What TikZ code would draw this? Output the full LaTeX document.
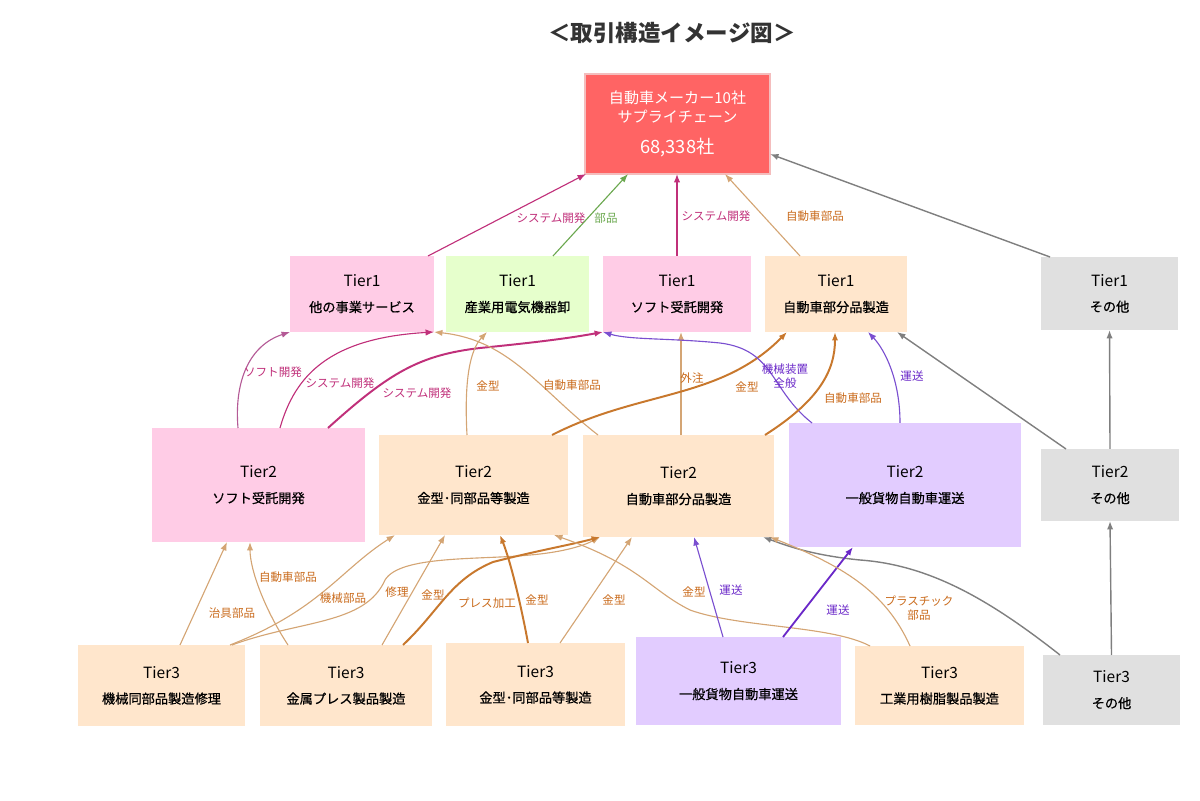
\documentclass[tikz,border=0pt]{standalone}
\usepackage{fontspec}
\setmainfont{Noto Sans CJK JP}
\newfontfamily\descfont[FakeBold=0.6]{Noto Sans CJK JP}
\usetikzlibrary{arrows.meta}

\definecolor{boxpink}{HTML}{FFCCE6}
\definecolor{boxpeach}{HTML}{FFE6CC}
\definecolor{boxgreen}{HTML}{E6FFCC}
\definecolor{boxlav}{HTML}{E2CCFF}
\definecolor{boxgray}{HTML}{E0E0E0}
\definecolor{topred}{HTML}{FF6464}
\definecolor{topedge}{HTML}{F4BDBD}
\definecolor{titlegray}{HTML}{333333}
\definecolor{magline}{HTML}{C0307A}
\definecolor{softmag}{HTML}{B45A96}
\definecolor{tanline}{HTML}{D4A574}
\definecolor{orline}{HTML}{C8782D}
\definecolor{orlabel}{HTML}{C96A1B}
\definecolor{grline}{HTML}{6BA84F}
\definecolor{puline}{HTML}{7A4FD0}
\definecolor{pudark}{HTML}{6A28C8}
\definecolor{gyline}{HTML}{7F7F7F}

\tikzset{
  tierbox/.style={inner sep=0pt, outer sep=0pt, align=center,
    font=\fontsize{11}{13}\selectfont},
  pinkbox/.style={tierbox, fill=boxpink},
  peachbox/.style={tierbox, fill=boxpeach},
  greenbox/.style={tierbox, fill=boxgreen},
  lavbox/.style={tierbox, fill=boxlav},
  graybox/.style={tierbox, fill=boxgray},
  topbox/.style={inner sep=0pt, outer sep=0pt, align=center, fill=topred,
    draw=topedge, line width=1.5pt, text=white,
    font=\fontsize{10.7}{13.5}\selectfont},
  lbl/.style={font=\fontsize{8.2}{9.5}\selectfont, inner sep=1pt, align=center},
  maglbl/.style={lbl, text=magline},
  orlbl/.style={lbl, text=orlabel},
  grlbl/.style={lbl, text=grline},
  pulbl/.style={lbl, text=pudark},
  sysedge/.style={->, draw=magline, line width=0.8pt},
  softedge/.style={->, draw=softmag, line width=0.8pt},
  tanedge/.style={->, draw=tanline, line width=0.8pt},
  oredge/.style={->, draw=orline, line width=1.4pt},
  gredge/.style={->, draw=grline, line width=0.8pt},
  puedge/.style={->, draw=puline, line width=0.8pt},
  grayedge/.style={->, draw=gyline, line width=1pt}
}

\newcommand{\tiertext}[2]{#1\\[5pt]{\fontsize{9.4}{11}\descfont #2}}

\begin{document}
\begin{tikzpicture}[x=0.025cm, y=-0.025cm, >={Latex[length=6pt,width=4.5pt]}]

\useasboundingbox (0,0) rectangle (1200,800);

% Title
\node[font=\fontsize{16}{18}\selectfont\bfseries, text=titlegray] (title) at (672,33) {＜取引構造イメージ図＞};

% Makers
\node[topbox, minimum width=4.625cm, minimum height=2.5cm] (top) at (677.5,124)
  {自動車メーカー10社\\サプライチェーン\\[9pt]{\fontsize{13}{15}\selectfont 68,338社}};

% Tier1
\node[pinkbox, minimum width=3.6cm, minimum height=1.9cm] (t1a) at (362,294) {\tiertext{Tier1}{他の事業サービス}};
\node[greenbox, minimum width=3.575cm, minimum height=1.9cm] (t1b) at (517.5,294) {\tiertext{Tier1}{産業用電気機器卸}};
\node[pinkbox, minimum width=3.7cm, minimum height=1.9cm] (t1c) at (677,294) {\tiertext{Tier1}{ソフト受託開発}};
\node[peachbox, minimum width=3.55cm, minimum height=1.9cm] (t1d) at (836,294) {\tiertext{Tier1}{自動車部分品製造}};
\node[graybox, minimum width=3.425cm, minimum height=1.825cm] (t1e) at (1109.5,293.5) {\tiertext{Tier1}{その他}};

% Tier2
\node[pinkbox, minimum width=5.325cm, minimum height=2.85cm] (t2a) at (258.5,485) {\tiertext{Tier2}{ソフト受託開発}};
\node[peachbox, minimum width=4.725cm, minimum height=2.5cm] (t2b) at (473.5,485) {\tiertext{Tier2}{金型･同部品等製造}};
\node[peachbox, minimum width=4.775cm, minimum height=2.55cm] (t2c) at (678.5,486) {\tiertext{Tier2}{自動車部分品製造}};
\node[lavbox, minimum width=5.8cm, minimum height=3.1cm] (t2d) at (905,485) {\tiertext{Tier2}{一般貨物自動車運送}};
\node[graybox, minimum width=3.45cm, minimum height=1.8cm] (t2e) at (1110,485) {\tiertext{Tier2}{その他}};

% Tier3
\node[peachbox, minimum width=4.175cm, minimum height=2.025cm] (t3a) at (161.5,685.5) {\tiertext{Tier3}{機械同部品製造修理}};
\node[peachbox, minimum width=4.3cm, minimum height=2.025cm] (t3b) at (346,685.5) {\tiertext{Tier3}{金属プレス製品製造}};
\node[peachbox, minimum width=4.475cm, minimum height=2.075cm] (t3c) at (535.5,684.5) {\tiertext{Tier3}{金型･同部品等製造}};
\node[lavbox, minimum width=5.125cm, minimum height=2.2cm] (t3d) at (738.5,681) {\tiertext{Tier3}{一般貨物自動車運送}};
\node[peachbox, minimum width=4.225cm, minimum height=1.975cm] (t3e) at (939.5,685.5) {\tiertext{Tier3}{工業用樹脂製品製造}};
\node[graybox, minimum width=3.425cm, minimum height=1.75cm] (t3f) at (1111.5,690) {\tiertext{Tier3}{その他}};

% Tier1 -> makers
\draw[sysedge] (t1a.north -| 428,0) -- (top.south -| 586,0)
  node[maglbl] at (551,218) {システム開発};
\draw[gredge] (t1b.north -| 553,0) -- (top.south -| 628,0)
  node[grlbl] at (606,218) {部品};
\draw[sysedge] (t1c.north) -- (t1c.north |- top.south)
  node[maglbl] at (716,216) {システム開発};
\draw[tanedge] (t1d.north -| 800,0) -- (top.south -| 725,0)
  node[orlbl] at (815,216) {自動車部品};
\draw[grayedge] (t1e.north -| 1050,0) -- (top.east |- 0,154);

% Tier2 -> Tier1
\draw[softedge] (t2a.north -| 238,0) .. controls (234,380) and (250,345) .. (t1a.south west)
  node[maglbl] at (273,372) {ソフト開発};
\draw[sysedge] (t2a.north -| 280,0) .. controls (295,375) and (330,338) .. (t1a.south east)
  node[maglbl] at (340,383) {システム開発};
\draw[sysedge, line width=1.4pt] (t2a.north -| 328,0) .. controls (390,372) and (420,355) .. (480,348)
  .. controls (540,342) and (570,338) .. (t1c.south west)
  node[maglbl] at (417,393) {システム開発};
\draw[tanedge] (t2b.north -| 467,0) .. controls (464,380) and (470,350) .. (t1b.south -| 487,0)
  node[orlbl] at (488,386) {金型};
\draw[tanedge] (t2c.north -| 598,0) .. controls (540,390) and (510,340) .. (t1a.south east)
  node[orlbl] at (572,385) {自動車部品};
\draw[tanedge] (t2c.north -| 681,0) -- (t1c.south -| 681,0)
  node[orlbl] at (692,378) {外注};
\draw[oredge] (t2b.north -| 552,0) .. controls (640,390) and (720,400) .. (t1d.south -| 787,0)
  node[orlbl] at (747,387) {金型};
\draw[puedge] (t2d.north -| 812,0) .. controls (770,390) and (775,350) .. (720,343)
  .. controls (670,338) and (630,340) .. (t1c.south west)
  node[pulbl] at (785,376) {機械装置\\全般};
\draw[oredge] (t2c.north -| 765,0) .. controls (820,400) and (835,370) .. (t1d.south -| 835,0)
  node[orlbl] at (853,398) {自動車部品};
\draw[puedge] (t2d.north -| 900,0) .. controls (900,380) and (885,350) .. (t1d.south -| 868,0)
  node[pulbl] at (912,376) {運送};
\draw[grayedge] (t2e.north -| 1066,0) -- (t1d.south -| 897,0);
\draw[grayedge] (t2e.north) -- (t1e.south);

% Tier3 -> Tier2
\draw[grayedge] (t3f.north) -- (t2e.south);
\draw[grayedge] (t3f.north -| 1060,0) .. controls (990,600) and (930,565) .. (860,560)
  .. controls (810,555) and (785,545) .. (t2c.south -| 763,0);
\draw[tanedge] (t3a.north -| 180,0) -- (t2a.south -| 227,0)
  node[orlbl] at (232,613) {治具部品};
\draw[tanedge] (t3b.north -| 288,0) .. controls (265,610) and (250,570) .. (t2a.south -| 250,0)
  node[orlbl] at (288,577) {自動車部品};
\draw[tanedge] (t3a.north -| 230,0) .. controls (320,610) and (340,570) .. (t2b.south -| 395,0)
  node[orlbl] at (343,598) {機械部品};
\draw[tanedge] (t3a.north -| 232,0) .. controls (300,620) and (365,625) .. (385,580)
  .. controls (400,555) and (480,560) .. (530,555)
  .. controls (565,552) and (585,545) .. (t2c.south -| 600,0)
  node[orlbl] at (397,592) {修理};
\draw[tanedge] (t3b.north -| 382,0) -- (t2b.south -| 445,0)
  node[orlbl] at (433,595) {金型};
\draw[oredge] (t3b.north -| 403,0) .. controls (440,610) and (450,580) .. (493,562)
  .. controls (540,550) and (570,545) .. (t2c.south -| 600,0)
  node[orlbl] at (487,603) {プレス加工};
\draw[oredge] (t3c.north -| 528,0) .. controls (520,600) and (510,560) .. (t2b.south -| 500,0)
  node[orlbl] at (537,600) {金型};
\draw[tanedge] (t3c.north -| 560,0) -- (t2c.south -| 632,0)
  node[orlbl] at (614,600) {金型};
\draw[tanedge] (t3e.north -| 870,0) .. controls (830,625) and (740,628) .. (690,610)
  .. controls (650,590) and (640,565) .. (t2b.south -| 554,0)
  node[orlbl] at (694,592) {金型};
\draw[puedge] (t3d.north -| 723,0) -- (t2c.south -| 694,0)
  node[pulbl] at (731,590) {運送};
\draw[puedge, draw=pudark, line width=1.3pt] (t3d.north -| 783,0) -- (t2d.south -| 853,0)
  node[pulbl] at (838,610) {運送};
\draw[tanedge] (t3e.north -| 910,0) .. controls (885,590) and (840,565) .. (t2c.south -| 770,0)
  node[orlbl] at (919,608) {プラスチック\\部品};

\end{tikzpicture}
\end{document}
